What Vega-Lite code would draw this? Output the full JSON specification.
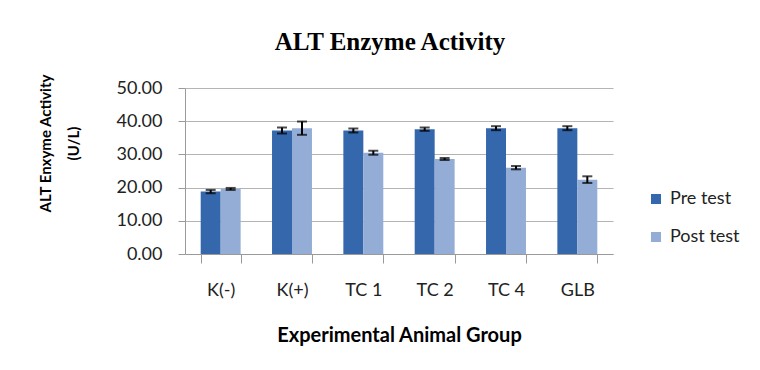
{
  "$schema": "https://vega.github.io/schema/vega-lite/v6.json",
  "width": 428,
  "height": 166,
  "autosize": {"type": "none"},
  "padding": {"left": 185, "top": 88, "right": 147, "bottom": 116},
  "background": "white",
  "title": {
    "text": "ALT Enzyme Activity",
    "font": "Liberation Serif",
    "fontSize": 25,
    "fontWeight": "bold",
    "color": "#000000",
    "anchor": "middle",
    "dx": -9,
    "offset": 19
  },
  "data": {
    "values": [
      {"group": "K(-)", "test": "Pre test", "value": 18.8, "lo": 18.3, "hi": 19.3},
      {"group": "K(-)", "test": "Post test", "value": 19.6, "lo": 19.3, "hi": 19.9},
      {"group": "K(+)", "test": "Pre test", "value": 37.2, "lo": 36.3, "hi": 38.1},
      {"group": "K(+)", "test": "Post test", "value": 37.9, "lo": 35.9, "hi": 39.9},
      {"group": "TC 1", "test": "Pre test", "value": 37.2, "lo": 36.6, "hi": 37.8},
      {"group": "TC 1", "test": "Post test", "value": 30.5, "lo": 29.9, "hi": 31.1},
      {"group": "TC 2", "test": "Pre test", "value": 37.6, "lo": 37.1, "hi": 38.1},
      {"group": "TC 2", "test": "Post test", "value": 28.6, "lo": 28.3, "hi": 28.9},
      {"group": "TC 4", "test": "Pre test", "value": 37.9, "lo": 37.3, "hi": 38.5},
      {"group": "TC 4", "test": "Post test", "value": 26.0, "lo": 25.5, "hi": 26.5},
      {"group": "GLB", "test": "Pre test", "value": 37.9, "lo": 37.3, "hi": 38.5},
      {"group": "GLB", "test": "Post test", "value": 22.4, "lo": 21.4, "hi": 23.4}
    ]
  },
  "encoding": {
    "x": {
      "field": "group",
      "type": "nominal",
      "sort": ["K(-)", "K(+)", "TC 1", "TC 2", "TC 4", "GLB"],
      "scale": {"paddingInner": 0.44, "paddingOuter": 0.22},
      "axis": {
        "title": "Experimental Animal Group",
        "titleFont": "Lato",
        "titleFontSize": 20,
        "titleFontWeight": "bold",
        "titleColor": "#000000",
        "titlePadding": 26,
        "labelFont": "Lato",
        "labelFontSize": 18,
        "labelColor": "#222222",
        "labelAngle": 0,
        "labelPadding": 18,
        "tickSize": 9,
        "tickColor": "#9a9a9a",
        "domainColor": "#9a9a9a",
        "tickBand": "extent",
        "grid": false
      }
    },
    "xOffset": {"field": "test", "type": "nominal", "sort": ["Pre test", "Post test"]}
  },
  "layer": [
    {
      "mark": {"type": "bar"},
      "encoding": {
        "y": {
          "field": "value",
          "type": "quantitative",
          "title": ["ALT Enxyme Activity", "(U/L)"],
          "scale": {"domain": [0, 50], "nice": false}
        },
        "color": {
          "field": "test",
          "type": "nominal",
          "sort": ["Pre test", "Post test"],
          "scale": {"domain": ["Pre test", "Post test"], "range": ["#3567AC", "#93ADD7"]},
          "legend": {
            "title": null,
            "orient": "none",
            "legendX": 462,
            "legendY": 102,
            "symbolType": "square",
            "symbolSize": 100,
            "symbolStrokeWidth": 0,
            "labelFont": "Lato",
            "labelFontSize": 18,
            "labelColor": "#222222",
            "labelOffset": 5,
            "rowPadding": 20,
            "padding": 0
          }
        }
      }
    },
    {
      "mark": {"type": "rule", "color": "#000000", "strokeWidth": 2},
      "encoding": {
        "y": {"field": "lo", "type": "quantitative", "title": ["ALT Enxyme Activity", "(U/L)"]},
        "y2": {"field": "hi"}
      }
    },
    {
      "mark": {"type": "tick", "color": "#000000", "thickness": 2, "size": 10},
      "encoding": {
        "y": {"field": "lo", "type": "quantitative", "title": ["ALT Enxyme Activity", "(U/L)"]}
      }
    },
    {
      "mark": {"type": "tick", "color": "#000000", "thickness": 2, "size": 10},
      "encoding": {
        "y": {"field": "hi", "type": "quantitative", "title": ["ALT Enxyme Activity", "(U/L)"]}
      }
    }
  ],
  "config": {
    "view": {"stroke": null},
    "axisQuantitative": {
      "titleFontSize": 15
    },
    "axisY": {
      "titleFont": "Lato",
      "titleFontSize": 15,
      "titleFontWeight": "bold",
      "titleColor": "#000000",
      "titleLineHeight": 28,
      "titleX": -132,
      "titleY": 55,
      "titleAngle": -90,
      "titleAlign": "center",
      "titleBaseline": "bottom",
      "values": [0, 10, 20, 30, 40, 50],
      "labelOverlap": false,
      "format": ".2f",
      "labelFont": "Lato",
      "labelFontSize": 18,
      "labelColor": "#222222",
      "labelPadding": 16,
      "tickSize": 7,
      "tickColor": "#9a9a9a",
      "domainColor": "#9a9a9a",
      "gridColor": "#b4b4b4",
      "grid": true
    }
  }
}
